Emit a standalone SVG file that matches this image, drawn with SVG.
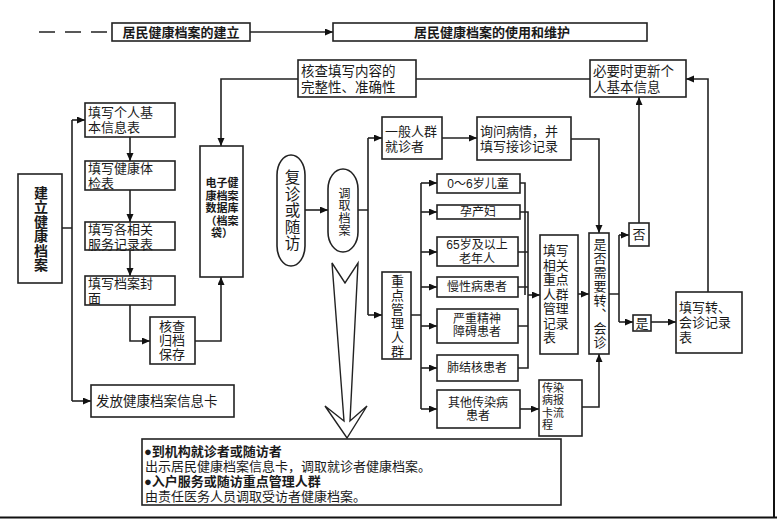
<svg xmlns="http://www.w3.org/2000/svg" width="777" height="520" viewBox="0 0 777 520">
<style>
.b{fill:#fff;stroke:#222;stroke-width:1.6}
.t{font-family:"Liberation Sans","Noto Sans CJK SC",sans-serif;font-size:13px;fill:#1a1a1a;dominant-baseline:central}
.bd{font-weight:bold}
.c{text-anchor:middle}
.s{font-size:12px}
.v{writing-mode:vertical-rl;text-anchor:middle}
.l{fill:none;stroke:#222;stroke-width:1.6}
.a{marker-end:url(#ah)}
</style>
<defs>
<marker id="ah" markerUnits="userSpaceOnUse" markerWidth="9" markerHeight="8" refX="8" refY="3.5" orient="auto">
<path d="M0,0 L8,3.5 L0,7 z" fill="#111"/>
</marker>
</defs>
<rect x="0" y="0" width="777" height="520" fill="#fff"/>
<path d="M774,0 V518 M0,517.5 H777" stroke="#111" stroke-width="2" fill="none"/>

<g id="connectors">
<path class="l" d="M39,32 H110" stroke-dasharray="16,10"/>
<path class="l a" d="M250,32 H333"/>
<path class="l" d="M62,228 H72 M72,120 V401"/>
<path class="l a" d="M72,120 H85"/>
<path class="l a" d="M72,401 H91"/>
<path class="l a" d="M130,137 V161"/>
<path class="l a" d="M130,190 V222"/>
<path class="l a" d="M130,250 V276"/>
<path class="l a" d="M130,305 V341 H150"/>
<path class="l a" d="M195,341 H221 V277"/>
<path class="l a" d="M298,79 H221 V146"/>
<path class="l" d="M416,79 H590"/>
<path class="l a" d="M305,210 H328"/>
<path class="l" d="M358,210 H368 M368,138 V315"/>
<path class="l a" d="M368,138 H382"/>
<path class="l a" d="M368,315 H382"/>
<path class="l a" d="M442,138 H477"/>
<path class="l a" d="M571,139 H599 V233"/>
<path class="l" d="M411,315 H421 M421,183 V409"/>
<path class="l a" d="M421,183 H437"/>
<path class="l a" d="M421,212 H437"/>
<path class="l a" d="M421,252 H437"/>
<path class="l a" d="M421,287 H437"/>
<path class="l a" d="M421,326 H437"/>
<path class="l a" d="M421,368 H437"/>
<path class="l a" d="M421,409 H437"/>
<path class="l" d="M520,183 H525 V295 M520,212 H528 V368 H518 M518,252 H528 M518,287 H528 M518,326 H528"/>
<path class="l a" d="M528,295 H540"/>
<path class="l a" d="M578,294 H589"/>
<path class="l a" d="M520,409 H539"/>
<path class="l a" d="M582,407 H599 V354"/>
<path class="l" d="M609,294 H619 M619,235 V322"/>
<path class="l a" d="M619,235 H629"/>
<path class="l a" d="M619,322 H633"/>
<path class="l a" d="M651,322 H676"/>
<path class="l a" d="M639,223 V97"/>
<path class="l a" d="M708,292 V79 H686"/>
<polygon points="332,263 345,283 358,263 350,421 367,406 347,438 325,406 344,421" fill="#fff" stroke="#222" stroke-width="1.4"/>
</g>

<g id="h1"><rect class="b" x="112" y="23" width="138" height="18"/><text class="t bd c" x="181" y="32">居民健康档案的建立</text></g>
<g id="h2"><rect class="b" x="333" y="23" width="314" height="18"/><text class="t bd c" x="492" y="32">居民健康档案的使用和维护</text></g>

<g id="jianli"><rect class="b" x="18" y="174" width="44" height="109"/>
<text class="t bd v" x="40" y="229" style="font-size:14px;letter-spacing:0.5px">建立健康档案</text></g>

<g id="n1"><rect class="b" x="85" y="103" width="90" height="34"/><text class="t" x="88" y="112">填写个人基<tspan x="88" y="127">本信息表</tspan></text></g>
<g id="n2"><rect class="b" x="85" y="161" width="90" height="29"/><text class="t" x="88" y="168">填写健康体<tspan x="88" y="183">检表</tspan></text></g>
<g id="n3"><rect class="b" x="85" y="222" width="90" height="28"/><text class="t" x="88" y="229">填写各相关<tspan x="88" y="243.5">服务记录表</tspan></text></g>
<g id="n4"><rect class="b" x="85" y="276" width="90" height="29"/><text class="t" x="88" y="283">填写档案封<tspan x="88" y="298">面</tspan></text></g>
<g id="hecha"><rect class="b" x="150" y="317" width="45" height="47"/><text class="t c" x="172" y="326">核查<tspan x="172" y="340">归档</tspan><tspan x="172" y="354">保存</tspan></text></g>
<g id="ffa"><rect class="b" x="91" y="385" width="143" height="32"/><text class="t" x="96" y="401" style="font-size:13.5px">发放健康档案信息卡</text></g>

<g id="dianzi"><rect class="b" x="200" y="146" width="43" height="131"/>
<text class="t bd c" x="222" y="183" style="font-size:11px">电子健<tspan x="222" y="195.5">康档案</tspan><tspan x="222" y="208">数据库</tspan><tspan x="222" y="220.5">（档案</tspan><tspan x="222" y="233">袋）</tspan></text></g>

<g id="hecha2"><rect class="b" x="298" y="60" width="118" height="37"/><text class="t" x="301" y="71" style="font-size:13.5px">核查填写内容的<tspan x="301" y="87">完整性、准确性</tspan></text></g>
<g id="gengxin"><rect class="b" x="590" y="60" width="96" height="37"/><text class="t" x="593" y="71" style="font-size:13.5px">必要时更新个<tspan x="593" y="87">人基本信息</tspan></text></g>

<g id="fuzhen"><rect class="b" x="277" y="155" width="28" height="111" rx="14" ry="20"/>
<text class="t v" x="291" y="211" style="font-size:15.5px;letter-spacing:1px">复诊或随访</text></g>
<g id="diaoqu"><rect class="b" x="328" y="169" width="30" height="83" rx="15" ry="20"/>
<text class="t v" x="343" y="212" style="font-size:12px;letter-spacing:0.5px">调取档案</text></g>

<g id="yiban"><rect class="b" x="382" y="117" width="60" height="42"/><text class="t" x="385" y="131">一般人群<tspan x="385" y="146">就诊者</tspan></text></g>
<g id="xunwen"><rect class="b" x="477" y="117" width="94" height="43"/><text class="t" x="480" y="131">询问病情，并<tspan x="480" y="146">填写接诊记录</tspan></text></g>

<g id="zhongdian"><rect class="b" x="382" y="272" width="29" height="87"/>
<text class="t v" x="396.5" y="317" style="font-size:13px;letter-spacing:1px">重点管理人群</text></g>

<g id="g1"><rect class="b" x="437" y="174" width="83" height="19"/><text class="t s c" x="478" y="183.5">0～6岁儿童</text></g>
<g id="g2"><rect class="b" x="437" y="205" width="83" height="14"/><text class="t s c" x="478" y="212">孕产妇</text></g>
<g id="g3"><rect class="b" x="437" y="237" width="81" height="29"/><text class="t s c" x="477" y="245">65岁及以上<tspan x="477" y="258.5">老年人</tspan></text></g>
<g id="g4"><rect class="b" x="437" y="277" width="81" height="20"/><text class="t s c" x="477" y="287">慢性病患者</text></g>
<g id="g5"><rect class="b" x="437" y="309" width="81" height="34"/><text class="t s c" x="477" y="318.5">严重精神<tspan x="477" y="332">障碍患者</tspan></text></g>
<g id="g6"><rect class="b" x="437" y="355" width="81" height="26"/><text class="t s c" x="477" y="368">肺结核患者</text></g>
<g id="g7"><rect class="b" x="437" y="390" width="83" height="38"/><text class="t s c" x="478" y="402.5">其他传染病<tspan x="478" y="416">患者</tspan></text></g>

<g id="tianxie"><rect class="b" x="540" y="235" width="38" height="119"/>
<text class="t" x="543" y="250" style="font-size:12.8px">填写<tspan x="543" y="264.5">相关</tspan><tspan x="543" y="279">重点</tspan><tspan x="543" y="293.5">人群</tspan><tspan x="543" y="308">管理</tspan><tspan x="543" y="322.5">记录</tspan><tspan x="543" y="337">表</tspan></text></g>
<g id="chuanran"><rect class="b" x="539" y="380" width="43" height="56"/>
<text class="t" x="542" y="387.5" style="font-size:11px">传染<tspan x="542" y="400">病报</tspan><tspan x="542" y="412.5">卡流</tspan><tspan x="542" y="425">程</tspan></text></g>

<g id="shifou"><rect class="b" x="589" y="233" width="20" height="121"/>
<text class="t v" x="599" y="294" style="font-size:13px;letter-spacing:1px">是否需要转、会诊</text></g>
<g id="fou"><rect class="b" x="629" y="223" width="20" height="23"/><text class="t c" x="639" y="234.5">否</text></g>
<g id="shi"><rect class="b" x="633" y="315" width="18" height="16"/><text class="t c" x="642" y="323">是</text></g>
<g id="zhuanzhen"><rect class="b" x="676" y="292" width="66" height="61"/><text class="t" x="679" y="307">填写转、<tspan x="679" y="322">会诊记录</tspan><tspan x="679" y="337">表</tspan></text></g>

<g id="info"><rect class="b" x="142" y="439" width="419" height="66"/>
<text class="t" x="144" y="451"><tspan class="bd">●到机构就诊者或随访者</tspan><tspan x="145" y="466">出示居民健康档案信息卡，调取就诊者健康档案。</tspan><tspan class="bd" x="144" y="481">●入户服务或随访重点管理人群</tspan><tspan x="145" y="496">由责任医务人员调取受访者健康档案。</tspan></text></g>
</svg>
